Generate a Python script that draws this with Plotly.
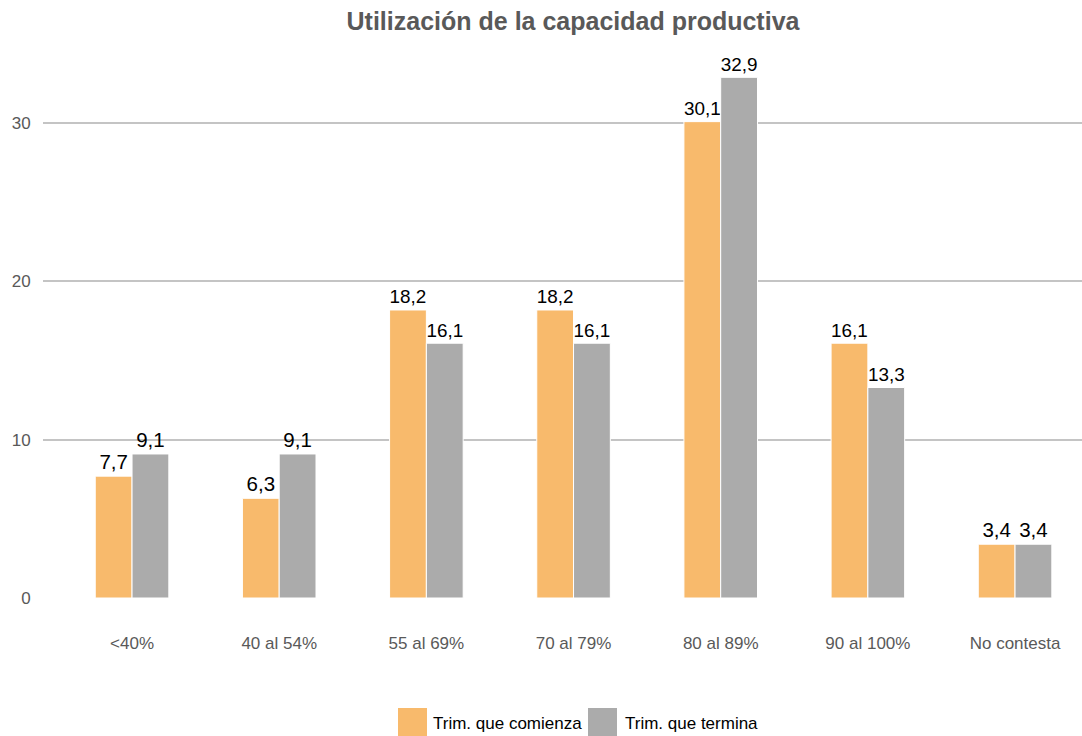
import plotly.graph_objects as go

categories = ["<40%", "40 al 54%", "55 al 69%", "70 al 79%", "80 al 89%", "90 al 100%", "No contesta"]
comienza = [7.7, 6.3, 18.2, 18.2, 30.1, 16.1, 3.4]
termina = [9.1, 9.1, 16.1, 16.1, 32.9, 13.3, 3.4]
series_names = ["Trim. que comienza", "Trim. que termina"]
series_colors = ["#F8BA6C", "#ABABAB"]
y_ticks = [0, 10, 20, 30]

FONT = "Liberation Sans, Arial, sans-serif"
W, H = 1082, 736
ML, MR, MT, MB = 43, 0, 52, 138
PW, PH = W - ML - MR, H - MT - MB


def px_x(x):
    return (x - ML) / PW


def px_y(y):
    return (H - MB - y) / PH


fig = go.Figure()
for name, vals, col in zip(series_names, [comienza, termina], series_colors):
    fig.add_trace(go.Bar(
        x=categories, y=vals, name=name,
        marker=dict(color=col, line=dict(color="white", width=1)),
        text=[f"{v:.1f}".replace(".", ",") for v in vals],
        textposition="outside", cliponaxis=False,
        textfont=dict(color="black", size=20.5, family=FONT),
        showlegend=False,
    ))

# white separators through gridlines at category centres
for c in categories:
    fig.add_shape(type="line", xref="x", yref="paper", x0=c, x1=c, y0=0, y1=1,
                  line=dict(color="white", width=2), layer="between")

# manual legend (large square swatches)
legend_items = [(398, 431, series_names[0], series_colors[0]),
                (588, 623, series_names[1], series_colors[1])]
for x0, tx, name, col in legend_items:
    fig.add_shape(type="rect", xref="paper", yref="paper",
                  x0=px_x(x0), x1=px_x(x0 + 29), y0=px_y(740), y1=px_y(708),
                  fillcolor=col, line=dict(width=0), layer="above")
    fig.add_annotation(x=px_x(tx), y=px_y(723), xref="paper", yref="paper",
                       text=name, showarrow=False, xanchor="left", yanchor="middle",
                       font=dict(size=17, color="black", family=FONT))

fig.update_layout(
    width=W, height=H,
    paper_bgcolor="white", plot_bgcolor="white",
    barmode="group", bargap=0.5, bargroupgap=0,
    separators=",.",
    font=dict(family=FONT, color="#595959", size=17),
    title=dict(text="<b>Utilización de la capacidad productiva</b>", x=573 / W, xanchor="center",
               y=1 - 21 / H, yanchor="middle",
               font=dict(size=25, color="#595959", family=FONT)),
    margin=dict(l=ML, r=MR, t=MT, b=MB),
    showlegend=False,
    xaxis=dict(range=[-0.605, 6.455], showgrid=False, showline=False, ticks="outside",
               ticklen=30, tickcolor="rgba(0,0,0,0)", automargin=False,
               tickfont=dict(size=17, color="#595959")),
    yaxis=dict(range=[0, 34.5], tickvals=y_ticks, showgrid=True, gridcolor="#C4C4C4", gridwidth=1.5,
               zeroline=False, showline=False, automargin=False,
               ticks="outside", ticklen=8, tickcolor="rgba(0,0,0,0)",
               tickfont=dict(size=17, color="#595959")),
)

fig.write_html("out.html", config={"displayModeBar": False},
               post_script="document.body.style.margin='0';document.body.style.overflow='hidden';")
